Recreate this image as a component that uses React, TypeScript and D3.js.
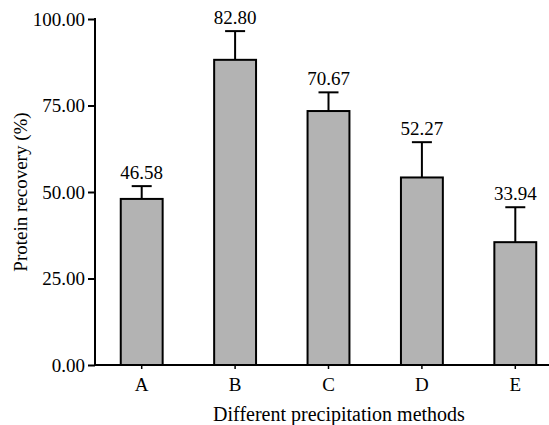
import React, { useRef, useEffect } from 'react';
import * as d3 from 'd3';

const categories = ['A', 'B', 'C', 'D', 'E'];
const means = [48.0, 88.2, 73.4, 54.2, 35.5];
const errors = [3.7, 8.3, 5.4, 10.2, 10.1];
const valueLabels = ['46.58', '82.80', '70.67', '52.27', '33.94'];
const yTicks = [0, 25, 50, 75, 100];

const FONT = '"Liberation Serif", "Times New Roman", serif';

const App = () => {
  const ref = useRef<SVGSVGElement>(null);

  useEffect(() => {
    const svg = d3.select(ref.current);
    svg.selectAll('*').remove();

    const left = 95;
    const top = 19;
    const bottom = 365;

    const x = d3.scaleBand<string>()
      .domain(categories)
      .range([left, 562])
      .paddingInner(0.53)
      .paddingOuter(0.265);

    const y = d3.scaleLinear().domain([0, 100]).range([bottom, top]);

    const data = categories.map((c, i) => ({ c, m: means[i], e: errors[i], label: valueLabels[i] }));

    // error bars (upper only)
    const eb = svg.append('g');
    data.forEach(d => {
      const cx = x(d.c)! + x.bandwidth() / 2;
      eb.append('line')
        .attr('x1', cx).attr('x2', cx)
        .attr('y1', y(d.m)).attr('y2', y(d.m + d.e))
        .attr('stroke', '#000').attr('stroke-width', 2);
      eb.append('line')
        .attr('x1', cx - 10).attr('x2', cx + 10)
        .attr('y1', y(d.m + d.e)).attr('y2', y(d.m + d.e))
        .attr('stroke', '#000').attr('stroke-width', 2);
    });

    svg.append('g').selectAll('rect')
      .data(data)
      .enter().append('rect')
      .attr('x', d => x(d.c)! + 1)
      .attr('y', d => y(d.m))
      .attr('width', x.bandwidth() - 2)
      .attr('height', d => y(0) - y(d.m))
      .attr('fill', '#b3b3b3')
      .attr('stroke', '#000')
      .attr('stroke-width', 2);

    svg.append('g').selectAll('text')
      .data(data)
      .enter().append('text')
      .attr('x', d => x(d.c)! + x.bandwidth() / 2)
      .attr('y', d => y(d.m + d.e) - 7)
      .attr('text-anchor', 'middle')
      .attr('font-family', FONT)
      .attr('font-size', 19)
      .text(d => d.label);

    // y axis
    const yAxis = svg.append('g')
      .attr('transform', `translate(${left},0)`)
      .call(d3.axisLeft(y).tickValues(yTicks).tickFormat(d3.format('.2f')).tickSize(7).tickSizeOuter(0).tickPadding(3));
    yAxis.select('.domain').attr('stroke-width', 2).attr('d', `M0,${top - 1}V${bottom + 1}`);
    yAxis.selectAll('.tick line').attr('stroke-width', 2);
    yAxis.selectAll('.tick text').attr('font-family', FONT).attr('font-size', 19).attr('fill', '#000');

    // x axis
    const xAxis = svg.append('g')
      .attr('transform', `translate(0,${bottom})`)
      .call(d3.axisBottom(x).tickSize(4).tickSizeOuter(0).tickPadding(9));
    xAxis.select('.domain').attr('stroke-width', 2).attr('d', `M${left - 1},0H549`);
    xAxis.selectAll('.tick line').attr('stroke-width', 1.5);
    xAxis.selectAll('.tick text').attr('font-family', FONT).attr('font-size', 19).attr('fill', '#000');

    svg.append('text')
      .attr('x', 339)
      .attr('y', 421)
      .attr('text-anchor', 'middle')
      .attr('font-family', FONT)
      .attr('font-size', 20)
      .text('Different precipitation methods');

    svg.append('text')
      .attr('transform', `translate(27,192) rotate(-90)`)
      .attr('text-anchor', 'middle')
      .attr('font-family', FONT)
      .attr('font-size', 19)
      .text('Protein recovery (%)');
  }, []);

  return (
    <svg ref={ref} width={549} height={425}
      style={{ position: 'absolute', left: 0, top: 0, background: '#fff' }} />
  );
};

export default App;
